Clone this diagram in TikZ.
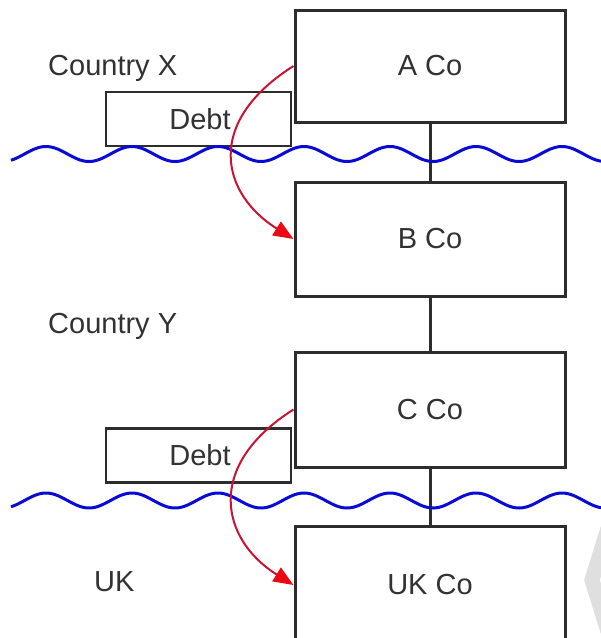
\documentclass[tikz,border=0pt]{standalone}
\usepackage{fontspec}
\setmainfont{Liberation Sans}
\usetikzlibrary{arrows.meta}
\definecolor{boxline}{RGB}{45,45,45}
\definecolor{txt}{RGB}{50,50,50}
\definecolor{wave}{RGB}{10,10,215}
\definecolor{arrowline}{RGB}{200,20,50}
\definecolor{arrowhead}{RGB}{235,10,20}
\begin{document}
\begin{tikzpicture}[x=1pt,y=-1pt,
  every node/.style={font=\fontsize{29}{32}\selectfont, text=txt},
  cobox/.style={draw=boxline, line width=3pt, fill=white, minimum width=270pt, inner sep=0pt},
  debtbox/.style={draw=boxline, line width=2.5pt, fill=white, minimum width=185pt, minimum height=54pt, inner sep=0pt},
  link/.style={draw=boxline, line width=3pt},
  border/.style={wave, line width=3pt},
  debtarrow/.style={arrowline, line width=2pt, -{Triangle[length=20pt,width=16pt,fill=arrowhead,color=arrowhead]}},
  label/.style={anchor=west, inner sep=0pt}]
\useasboundingbox (0,0) rectangle (601,638);
% watermark
\draw[gray!25, line width=15pt, miter limit=3] (613,512) -- (592,580) -- (613,648);
% company boxes
\node[cobox, minimum height=112pt] (A) at (430,66) {A Co};
\node[cobox, minimum height=114pt] (B) at (430,239) {B Co};
\node[cobox, minimum height=115pt] (C) at (430,409.5) {C Co};
\node[cobox, minimum height=118pt] (UK) at (430,585) {UK Co};
% debt boxes
\node[debtbox] (D1) at (198.5,119) {\hspace*{3pt}Debt};
\node[debtbox] (D2) at (198.5,455.5) {\hspace*{3pt}Debt};
% ownership links
\draw[link] (A.south) -- (B.north);
\draw[link] (B.south) -- (C.north);
\draw[link] (C.south) -- (UK.north);
% borders
\draw[border] plot[domain=11:601, samples=240] (\x, {154 - 7.5*cos(4.186*(\x-46))});
\draw[border] plot[domain=11:601, samples=240] (\x, {500.5 - 7.5*cos(4.186*(\x-46))});
% country labels
\node[label] (cx) at (48,68) {Country X};
\node[label] (cy) at (48,326) {Country Y};
\node[label] (uk) at (94,582) {UK};
% debt push-down arrows
\draw[debtarrow] (A.west) .. controls +(-90,57) and +(-72,-45) .. (B.west);
\draw[debtarrow] (C.west) .. controls +(-90,57) and +(-72,-45) .. (UK.west);
\end{tikzpicture}
\end{document}
